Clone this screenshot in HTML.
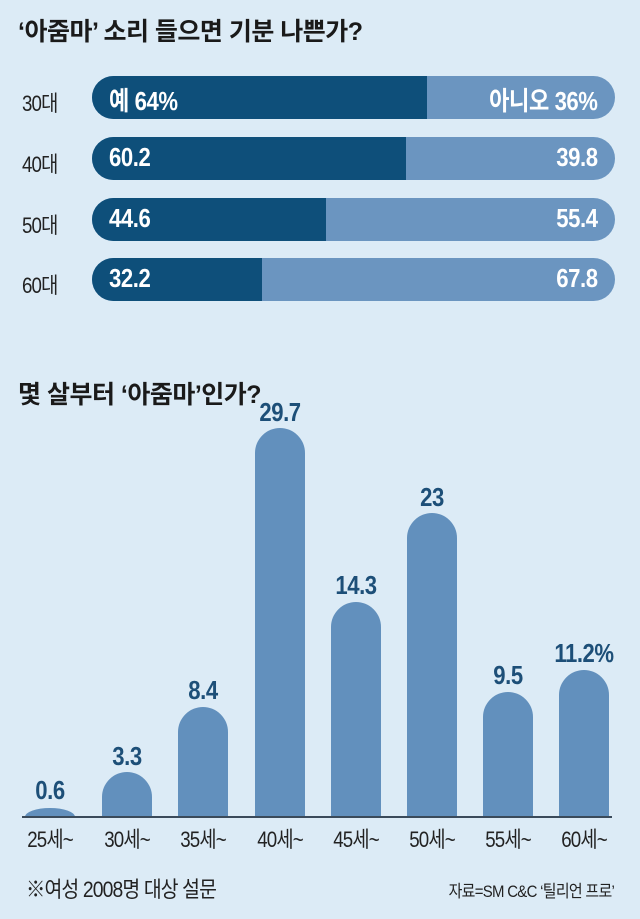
<!DOCTYPE html>
<html><head><meta charset="utf-8"><style>
body{margin:0;width:640px;height:919px;background:#dcebf6;font-family:"Liberation Sans","Noto Sans CJK KR",sans-serif;overflow:hidden;position:relative}
.t{position:absolute;color:#1a1a1a;font-weight:bold;font-size:25px;letter-spacing:-0.5px}
.row{position:absolute;left:92px;width:523px;height:43px;border-radius:22px;overflow:hidden;background:#6b95c0}
.row .d{position:absolute;left:0;top:0;bottom:0;background:#0e4f7a}
.row span{position:absolute;top:5px;color:#fff;font-size:26px;font-weight:bold;letter-spacing:-0.5px;transform:scaleX(0.85)}
.row span.l{transform-origin:left center}
.row span.r{transform-origin:right center}
.lab{position:absolute;left:22px;font-size:22px;color:#222;letter-spacing:-1px;transform:scaleX(0.85);transform-origin:left}
.bar{position:absolute;width:50px;background:#6290bd;border-radius:25px 25px 0 0}
.v{position:absolute;width:80px;text-align:center;font-size:26px;font-weight:bold;color:#1d4f78;letter-spacing:-0.5px;transform:scaleX(0.85)}
.x{position:absolute;top:822px;width:76px;text-align:center;font-size:22px;color:#222;letter-spacing:-1px;transform:scaleX(0.85)}
</style></head><body>
<div class="t" style="left:18px;top:12px">‘아줌마’ 소리 들으면 기분 나쁜가?</div>
<div class="lab" style="top:86px">30대</div>
<div class="lab" style="top:147px">40대</div>
<div class="lab" style="top:208px">50대</div>
<div class="lab" style="top:268px">60대</div>
<div class="row" style="top:76px"><div class="d" style="width:335px"></div><span class="l" style="left:17px">예 64%</span><span class="r" style="right:17px">아니오 36%</span></div>
<div class="row" style="top:137px"><div class="d" style="width:314px"></div><span class="l" style="left:17px">60.2</span><span class="r" style="right:17px">39.8</span></div>
<div class="row" style="top:198px"><div class="d" style="width:234px"></div><span class="l" style="left:17px">44.6</span><span class="r" style="right:17px">55.4</span></div>
<div class="row" style="top:258px"><div class="d" style="width:170px"></div><span class="l" style="left:17px">32.2</span><span class="r" style="right:17px">67.8</span></div>
<div class="t" style="left:18px;top:375px">몇 살부터 ‘아줌마’인가?</div>
<div class="bar" style="left:25px;top:808px;height:9px;border-radius:25px 25px 0 0/9px 9px 0 0"></div>
<div class="bar" style="left:102px;top:772px;height:45px"></div>
<div class="bar" style="left:178px;top:707px;height:110px"></div>
<div class="bar" style="left:255px;top:428px;height:389px"></div>
<div class="bar" style="left:331px;top:602px;height:215px"></div>
<div class="bar" style="left:407px;top:513px;height:304px"></div>
<div class="bar" style="left:483px;top:692px;height:125px"></div>
<div class="bar" style="left:559px;top:670px;height:147px"></div>
<div style="position:absolute;left:22px;width:590px;top:816px;height:2px;background:#3a4a5a"></div>
<div class="v" style="left:10px;top:775px">0.6</div>
<div class="v" style="left:87px;top:741px">3.3</div>
<div class="v" style="left:163px;top:675px">8.4</div>
<div class="v" style="left:240px;top:397px">29.7</div>
<div class="v" style="left:316px;top:570px">14.3</div>
<div class="v" style="left:392px;top:482px">23</div>
<div class="v" style="left:468px;top:660px">9.5</div>
<div class="v" style="left:544px;top:638px">11.2%</div>
<div class="x" style="left:12px">25세~</div>
<div class="x" style="left:89px">30세~</div>
<div class="x" style="left:165px">35세~</div>
<div class="x" style="left:242px">40세~</div>
<div class="x" style="left:318px">45세~</div>
<div class="x" style="left:394px">50세~</div>
<div class="x" style="left:470px">55세~</div>
<div class="x" style="left:546px">60세~</div>
<div style="position:absolute;left:26px;top:872px;font-size:22px;color:#222;letter-spacing:-1px;transform:scaleX(0.88);transform-origin:left">※여성 2008명 대상 설문</div>
<div style="position:absolute;right:26px;top:877px;font-size:17px;color:#222;letter-spacing:-0.8px;transform:scaleX(0.88);transform-origin:right">자료=SM C&amp;C ‘틸리언 프로’</div>
</body></html>
